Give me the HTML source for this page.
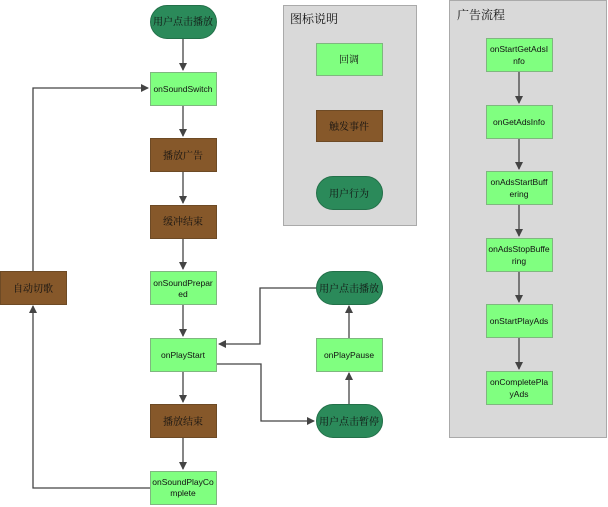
<!DOCTYPE html>
<html><head><meta charset="utf-8"><style>
html,body{margin:0;padding:0;background:#fff;}
svg{display:block;}
text{font-family:"Liberation Sans","Noto Sans CJK SC",sans-serif;font-size:8.5px;fill:#111;text-anchor:middle;}
.cn{font-family:"Noto Serif CJK SC","Noto Sans CJK SC",serif;font-size:10px;}
.g{fill:#80ff80;stroke:#7fb77f;stroke-width:1;}
.b{fill:#86582a;stroke:#6d4a25;stroke-width:1;}
.u{fill:#2b8a5a;stroke:#237049;stroke-width:1;}
.l{fill:none;stroke:#444;stroke-width:1.3;}
</style></head><body>
<svg width="608" height="507" viewBox="0 0 608 507" xmlns="http://www.w3.org/2000/svg">
<defs><marker id="a" markerWidth="8" markerHeight="8" refX="7" refY="4" orient="auto" markerUnits="userSpaceOnUse"><path d="M0,0 L8,4 L0,8 Z" fill="#444"/></marker></defs>
<rect x="283.5" y="5.5" width="133" height="220" fill="#d9d9d9" stroke="#aaa"/>
<text class="cn" x="290" y="23" style="text-anchor:start;font-size:12px">图标说明</text>
<rect x="449.5" y="0.5" width="157" height="437" fill="#d9d9d9" stroke="#aaa"/>
<text class="cn" x="457" y="19" style="text-anchor:start;font-size:12px">广告流程</text>
<path class="l" d="M183,38 V70" marker-end="url(#a)"/>
<path class="l" d="M183,105 V136" marker-end="url(#a)"/>
<path class="l" d="M183,171 V203" marker-end="url(#a)"/>
<path class="l" d="M183,238 V269" marker-end="url(#a)"/>
<path class="l" d="M183,304 V336" marker-end="url(#a)"/>
<path class="l" d="M183,371 V402" marker-end="url(#a)"/>
<path class="l" d="M183,437 V469" marker-end="url(#a)"/>
<path class="l" d="M33,271 V88 H148" marker-end="url(#a)"/>
<path class="l" d="M150,488 H33 V306" marker-end="url(#a)"/>
<path class="l" d="M217,364 H261 V421 H314" marker-end="url(#a)"/>
<path class="l" d="M316,288 H260 V344 H219" marker-end="url(#a)"/>
<path class="l" d="M349,404 V373" marker-end="url(#a)"/>
<path class="l" d="M349,338 V306" marker-end="url(#a)"/>
<path class="l" d="M519,71 V103" marker-end="url(#a)"/>
<path class="l" d="M519,138 V169" marker-end="url(#a)"/>
<path class="l" d="M519,204 V236" marker-end="url(#a)"/>
<path class="l" d="M519,271 V302" marker-end="url(#a)"/>
<path class="l" d="M519,337 V369" marker-end="url(#a)"/>
<rect class="u" x="150.5" y="5.5" width="66" height="33" rx="16.5"/><text class="cn" x="183" y="25">用户点击播放</text>
<rect class="g" x="150.5" y="72.5" width="66" height="33"/><text x="183" y="92">onSoundSwitch</text>
<rect class="b" x="150.5" y="138.5" width="66" height="33"/><text class="cn" x="183" y="159">播放广告</text>
<rect class="b" x="150.5" y="205.5" width="66" height="33"/><text class="cn" x="183" y="225">缓冲结束</text>
<rect class="g" x="150.5" y="271.5" width="66" height="33"/><text x="183" y="286">onSoundPrepar</text><text x="183" y="297">ed</text>
<rect class="g" x="150.5" y="338.5" width="66" height="33"/><text x="183" y="358">onPlayStart</text>
<rect class="b" x="150.5" y="404.5" width="66" height="33"/><text class="cn" x="183" y="425">播放结束</text>
<rect class="g" x="150.5" y="471.5" width="66" height="33"/><text x="183" y="485">onSoundPlayCo</text><text x="183" y="496">mplete</text>
<rect class="b" x="0.5" y="271.5" width="66" height="33"/><text class="cn" x="33" y="292">自动切歌</text>
<rect class="u" x="316.5" y="271.5" width="66" height="33" rx="16.5"/><text class="cn" x="349" y="292">用户点击播放</text>
<rect class="g" x="316.5" y="338.5" width="66" height="33"/><text x="349" y="358">onPlayPause</text>
<rect class="u" x="316.5" y="404.5" width="66" height="33" rx="16.5"/><text class="cn" x="349" y="425">用户点击暂停</text>
<rect class="g" x="316.5" y="43.5" width="66" height="32"/><text class="cn" x="349" y="63">回调</text>
<rect class="b" x="316.5" y="110.5" width="66" height="31"/><text class="cn" x="349" y="130">触发事件</text>
<rect class="u" x="316.5" y="176.5" width="66" height="33" rx="16.5"/><text class="cn" x="349" y="197">用户行为</text>
<rect class="g" x="486.5" y="38.5" width="66" height="33"/><text x="519" y="52">onStartGetAdsI</text><text x="519" y="64">nfo</text>
<rect class="g" x="486.5" y="105.5" width="66" height="33"/><text x="519" y="125">onGetAdsInfo</text>
<rect class="g" x="486.5" y="171.5" width="66" height="33"/><text x="519" y="185">onAdsStartBuff</text><text x="519" y="197">ering</text>
<rect class="g" x="486.5" y="238.5" width="66" height="33"/><text x="519" y="252">onAdsStopBuffe</text><text x="519" y="264">ring</text>
<rect class="g" x="486.5" y="304.5" width="66" height="33"/><text x="519" y="324">onStartPlayAds</text>
<rect class="g" x="486.5" y="371.5" width="66" height="33"/><text x="519" y="385">onCompletePla</text><text x="519" y="397">yAds</text>
</svg>
</body></html>
